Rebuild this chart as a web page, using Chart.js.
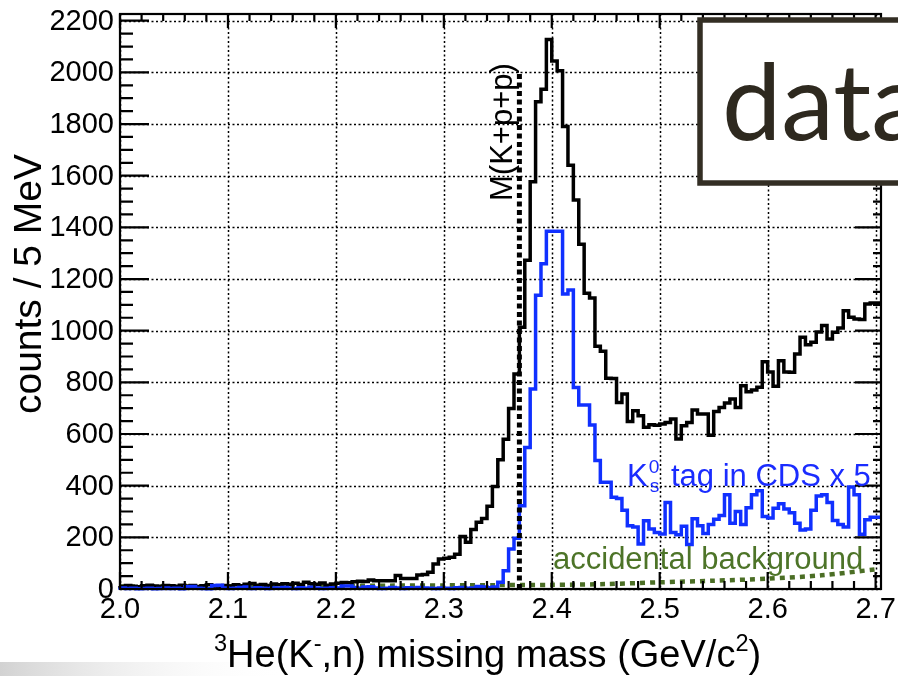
<!DOCTYPE html>
<html>
<head>
<meta charset="utf-8">
<script src="https://cdn.jsdelivr.net/npm/chart.js@4.4.1/dist/chart.umd.min.js"></script>
<style>
  html, body { margin: 0; padding: 0; background: #fff; }
  #wrap { width: 898px; height: 676px; overflow: hidden; }
</style>
</head>
<body>
<div id="wrap"><canvas id="massChart" width="898" height="676"></canvas></div>
<script>
// 5 MeV bins from 2.000 to 2.705 GeV/c^2
const binStart = 2.0;
const binWidth = 0.005;

// all events (counts / 5 MeV)
const allCounts = [
  12, 10, 14, 11, 9, 13, 15, 12, 10, 14,
  13, 11, 15, 12, 14, 10, 13, 16, 12, 11,
  14, 12, 16, 13, 18, 21, 15, 17, 14, 19,
  16, 20, 18, 22, 17, 26, 20, 18, 23, 15,
  19, 22, 25, 24, 28, 30, 29, 35, 32, 32,
  32, 32, 52, 41, 41, 41, 54, 56, 65, 97,
  116, 119, 123, 135, 203, 181, 230, 258, 273, 320,
  397, 500, 580, 699, 832, 1013, 1273, 1577, 1886, 1935,
  2127, 2044, 2006, 1790, 1640, 1506, 1335, 1145, 1127, 940,
  920, 816, 815, 722, 755, 648, 690, 671, 626, 636,
  634, 639, 645, 658, 581, 632, 645, 693, 677, 677,
  595, 687, 703, 720, 736, 703, 787, 764, 770, 781,
  880, 840, 785, 884, 840, 839, 910, 975, 946, 955,
  995, 1020, 968, 994, 1010, 1077, 1052, 1045, 1043, 1103, 1107
];

// K0s tag in CDS, scaled x 5
const ksCounts = [
  6, 4, 2, 3, 1, 2, 3, 1, 2, 4,
  2, 3, 1, 9, 10, 3, 2, 1, 14, 15,
  4, 2, 3, 6, 8, 2, 5, 3, 2, 4,
  3, 6, 4, 2, 5, 3, 7, 4, 2, 3,
  5, 4, 12, 12, 6, 3, 8, 9, 4, 2,
  3, 6, 4, 2, 5, 3, 6, 4, 3, 2,
  4, 3, 2, 5, 6, 3, 4, 10, 8, 5,
  8, 26, 71, 155, 196, 322, 548, 774, 1137, 1259,
  1385, 1385, 1385, 1142, 1158, 780, 712, 712, 635, 497,
  413, 413, 355, 350, 305, 245, 240, 174, 264, 232,
  219, 213, 335, 219, 210, 243, 172, 272, 245, 215,
  250, 270, 285, 365, 255, 300, 250, 315, 365, 380,
  281, 275, 313, 330, 310, 295, 255, 228, 232, 305,
  360, 365, 335, 265, 250, 240, 395, 365, 212, 268, 278
];

// accidental background
const bgMass = [2.0, 2.05, 2.1, 2.15, 2.2, 2.25, 2.3, 2.35, 2.4, 2.45, 2.5, 2.55, 2.6, 2.65, 2.7];
const bgCounts = [10, 10, 11, 11, 12, 13, 14, 15, 16, 19, 26, 32, 40, 53, 76];

// M(K+p+p) threshold
const thresholdMass = 2.37;
const thresholdTop = 2000;

const xTicks = [2.0, 2.1, 2.2, 2.3, 2.4, 2.5, 2.6, 2.7];
const xTickLabels = ['2.0', '2.1', '2.2', '2.3', '2.4', '2.5', '2.6', '2.7'];
const yTicks = [0, 200, 400, 600, 800, 1000, 1200, 1400, 1600, 1800, 2000, 2200];

function histPoints(vals) {
  const pts = vals.map((v, i) => ({ x: binStart + i * binWidth, y: v }));
  pts.push({ x: binStart + vals.length * binWidth, y: vals[vals.length - 1] });
  return pts;
}

const FONT = '"Liberation Sans", Arial, sans-serif';

// draw text made of pieces, some raised / lowered
function richText(c, parts, x, y, size) {
  let cx = x;
  parts.forEach(p => {
    if (p.stack) {
      c.font = (size * 0.62) + 'px ' + FONT;
      const w1 = c.measureText(p.sup).width, w2 = c.measureText(p.sub).width;
      c.fillText(p.sup, cx + 1, y - size * 0.42);
      c.fillText(p.sub, cx + 2, y + size * 0.2);
      cx += Math.max(w1, w2) + 4;
      return;
    }
    const s = p.sup ? size * 0.62 : size;
    c.font = s + 'px ' + FONT;
    c.fillText(p.t, cx, p.sup ? y - size * 0.42 : y);
    cx += c.measureText(p.t).width;
  });
}

const decor = {
  id: 'decor',
  beforeDraw(chart) {
    const c = chart.ctx, a = chart.chartArea;
    const xs = chart.scales.x, ys = chart.scales.y;
    c.save();
    c.fillStyle = '#fff';
    c.fillRect(0, 0, chart.width, chart.height);
    const g = c.createLinearGradient(0, 0, 290, 0);
    g.addColorStop(0, '#d2d2d2');
    g.addColorStop(1, 'rgba(255,255,255,0)');
    c.fillStyle = g;
    c.fillRect(0, 662, 290, 14);
    // dotted grid
    c.strokeStyle = '#000';
    c.lineWidth = 1.5;
    c.setLineDash([2, 2.5]);
    xTicks.forEach(v => {
      const px = Math.round(xs.getPixelForValue(v)) + 0.5;
      c.beginPath(); c.moveTo(px, a.top); c.lineTo(px, a.bottom); c.stroke();
    });
    yTicks.forEach(v => {
      const py = Math.round(ys.getPixelForValue(v)) + 0.5;
      c.beginPath(); c.moveTo(a.left, py); c.lineTo(a.right, py); c.stroke();
    });
    c.restore();
  },
  afterDatasetsDraw(chart) {
    const c = chart.ctx, a = chart.chartArea;
    const xs = chart.scales.x, ys = chart.scales.y;
    c.save();
    c.strokeStyle = '#000';
    c.lineWidth = 2.2;
    c.setLineDash([]);
    c.strokeRect(a.left, a.top, a.right - a.left, a.bottom - a.top);
    // ticks
    c.beginPath();
    for (let v = 0; v <= 2226; v += 50) {
      const py = ys.getPixelForValue(v);
      const major = v % 200 === 0;
      c.moveTo(a.left, py); c.lineTo(a.left + (major ? 29 : 13), py);
      c.moveTo(a.right, py); c.lineTo(a.right - (major ? 26 : 8), py);
    }
    for (let k = 0; k <= 35; k++) {
      const v = 2.0 + k * 0.02;
      const px = xs.getPixelForValue(v);
      const major = k % 5 === 0;
      c.moveTo(px, a.bottom); c.lineTo(px, a.bottom - (major ? 17 : 8));
      c.moveTo(px, a.top); c.lineTo(px, a.top + (major ? 14 : 7));
    }
    c.stroke();
    // tick labels
    c.fillStyle = '#000';
    c.font = '29px ' + FONT;
    c.textAlign = 'right';
    c.textBaseline = 'middle';
    yTicks.forEach(v => c.fillText(String(v), a.left - 6, ys.getPixelForValue(v) + 1));
    c.textAlign = 'center';
    c.textBaseline = 'alphabetic';
    xTicks.forEach((v, i) => c.fillText(xTickLabels[i], xs.getPixelForValue(v), 618));
    // axis titles
    c.save();
    c.translate(41, 284);
    c.rotate(-Math.PI / 2);
    c.font = '39px ' + FONT;
    c.fillText('counts / 5 MeV', 0, 0);
    c.restore();
    c.textAlign = 'left';
    richText(c, [{ t: '3', sup: true }, { t: 'He(K' }, { t: '-', sup: true }, { t: ',n) missing mass (GeV/c' },
      { t: '2', sup: true }, { t: ')' }], 214, 667, 38);
    // threshold label
    c.save();
    c.translate(512, 201);
    c.rotate(-Math.PI / 2);
    c.font = '31px ' + FONT;
    c.textAlign = 'left';
    c.fillText('M(K+p+p)', 0, 0);
    c.restore();
    // annotations
    c.fillStyle = '#1a2cff';
    richText(c, [{ t: 'K' }, { stack: true, sup: '0', sub: 's' }, { t: ' tag in CDS x 5' }], 627, 486, 31);
    c.fillStyle = '#4d7428';
    c.font = '31px ' + FONT;
    c.fillText('accidental background', 553, 569);
    // "data" box
    c.fillStyle = '#fff';
    c.fillRect(700, 20, 220, 163);
    c.strokeStyle = '#332e24';
    c.lineWidth = 5.5;
    c.strokeRect(700, 20, 220, 163);
    c.fillStyle = '#2e291f';
    c.font = '106px Lato, "Open Sans", sans-serif';
    c.fillText('data', 722, 140);
    c.restore();
  }
};

const ctx = document.getElementById('massChart');
new Chart(ctx, {
  type: 'line',
  data: {
    datasets: [
      {
        data: [{ x: thresholdMass, y: 0 }, { x: thresholdMass, y: thresholdTop }],
        borderColor: '#000', borderWidth: 5, borderDash: [5, 3.5], order: 0
      },
      {
        data: histPoints(ksCounts), stepped: 'after',
        borderColor: '#1030ff', borderWidth: 3.5, order: 1, clip: 3
      },
      {
        data: histPoints(allCounts), stepped: 'after',
        borderColor: '#000', borderWidth: 3.5, order: 2, clip: 3
      },
      {
        data: bgMass.map((m, i) => ({ x: m, y: bgCounts[i] })),
        borderColor: '#4b6e25', borderWidth: 4.5, borderDash: [5, 5], tension: 0.3, order: 3, clip: 3
      }
    ]
  },
  options: {
    responsive: false,
    animation: false,
    layout: { padding: { left: 120, right: 17, top: 14, bottom: 87 } },
    elements: { point: { radius: 0 }, line: { fill: false, borderCapStyle: 'butt' } },
    scales: {
      x: { type: 'linear', min: 2.0, max: 2.705, display: false },
      y: { type: 'linear', min: 0, max: 2226, display: false }
    },
    plugins: { legend: { display: false }, tooltip: { enabled: false } }
  },
  plugins: [decor]
});
</script>
</body>
</html>
